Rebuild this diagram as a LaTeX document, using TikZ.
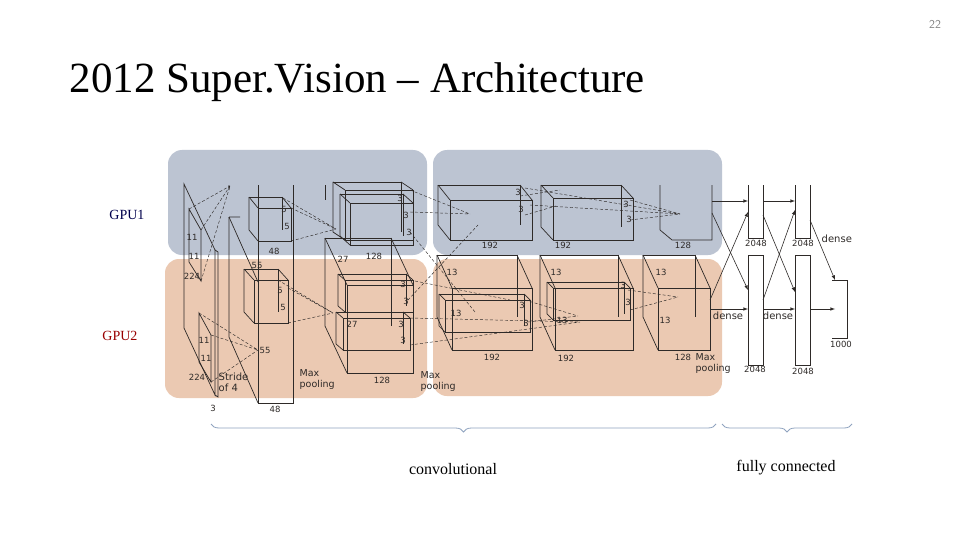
\documentclass[tikz,border=0pt]{standalone}
\usepackage{fontspec}
\setmainfont{Liberation Serif}
\newfontfamily\lab{DejaVu Sans}
\usetikzlibrary{decorations.pathreplacing}
\definecolor{gpuA}{HTML}{BCC4D2}
\definecolor{gpuB}{HTML}{EBC9B2}
\definecolor{ink}{HTML}{2E2A28}
\definecolor{bracec}{HTML}{8FA3BF}
\newcommand\cuboidx[6]{% x1 y1 x2 y2 dx dy
  \draw[box] (#1,#2) rectangle (#3,#4);
  \draw[box] (#1+#5,#2+#6) -- (#3+#5,#2+#6) -- (#3+#5,#4+#6);
  \draw[box] (#1+#5,#2+#6) -- (#1+#5,#4+#6) -- (#1,#4);
  \draw[box] (#1+#5,#2+#6) -- (#1,#2) (#3+#5,#2+#6) -- (#3,#2);}
\begin{document}
\begin{tikzpicture}[x=1pt,y=-1pt,
  box/.style={draw=ink,line width=0.7pt},
  dsh/.style={draw=ink,densely dashed,line width=0.45pt},
  num/.style={font=\lab\fontsize{8.5}{9}\selectfont,text=ink,inner sep=0.5pt},
  arr/.style={draw=ink,line width=0.6pt,-latex},
  bg/.style={rounded corners=14pt,draw=none}]
\useasboundingbox (0,0) rectangle (960,540);
\fill[white] (0,0) rectangle (960,540);
\node[text=gray,font=\fontsize{12}{13}\selectfont\sffamily] (pg) at (935,24) {22};
\node[anchor=west,font=\fontsize{43}{46}\selectfont] (title) at (66,82) {2012 Super.Vision – Architecture};
% backgrounds
\fill[gpuA,bg] (168,150) rectangle (427,255);
\fill[gpuA,bg] (433,150) rectangle (722,255);
\fill[gpuB,bg] (165,259) rectangle (427,398);
\fill[gpuB,bg] (433,259) rectangle (722,396);
\node[text=blue!30!black,font=\fontsize{14}{16}\selectfont] (g1) at (127,215) {GPU1};
\node[text=red!60!black,font=\fontsize{14}{16}\selectfont] (g2) at (120,336) {GPU2};
% input
\draw[box] (184,184) -- (215,250) -- (215,395) -- (184,328) -- cycle;
\draw[box] (215,250) -- (218,252) -- (218,397) -- (215,395);
\draw[box] (189,209) -- (201,230) -- (201,281) -- (189,262) -- cycle;
\draw[box] (199,313) -- (211,335) -- (211,382) -- (199,362) -- cycle;
\draw[dsh] (201,230) -- (230,186) (201,281) -- (230,186) (189,209) -- (230,186);
\draw[dsh] (199,313) -- (258,350) (211,335) -- (258,350) (211,382) -- (258,350);
% conv1
\draw[box] (258,185) -- (258,403) -- (293,403) -- (293,185);
\draw[box] (229,217) -- (229,337) -- (258,403);
\draw[box] (229,217) -- (258,282) (229,185) -- (229,190) (229,217) -- (240,217);
\cuboidx{258}{208}{291}{241}{-9}{-11}
\cuboidx{254}{280}{288}{323}{-10}{-11}
\draw[dsh] (291,208) -- (336,229) (291,241) -- (336,229) (283,198) -- (336,229);
\draw[dsh] (288,288) -- (333,313) (288,323) -- (333,313) (278,280) -- (333,313);
% conv2
\cuboidx{347}{285}{413}{373}{-22}{-47}
\cuboidx{345}{190}{413}{240}{-12}{-8}
\cuboidx{350}{203}{413}{245}{-10}{-9}
\cuboidx{345}{280}{413}{312}{-7}{-6}
\cuboidx{343}{318}{410}{350}{-7}{-6}
\draw[box] (325,185) -- (325,200);
\draw[dsh] (410,190) -- (470,214) (410,212) -- (470,214) (410,232) -- (475,312);
\draw[dsh] (408,300) -- (478,225) (410,318) -- (580,322) (410,345) -- (580,322) (410,280) -- (510,300);
% layer 3
\cuboidx{452}{288}{532}{350}{-15}{-33}
\cuboidx{450}{200}{532}{240}{-12}{-15}
\cuboidx{445}{300}{530}{332}{-6}{-6}
\draw[dsh] (525,188) -- (680,214) (530,205) -- (680,214) (525,300) -- (578,316) (528,322) -- (578,316);
\draw[dsh] (520,196) -- (560,190) (525,215) -- (556,206);
% layer 4
\cuboidx{555}{288}{633}{350}{-15}{-33}
\cuboidx{553}{198}{633}{240}{-12}{-13}
\cuboidx{553}{288}{630}{320}{-6}{-6}
\draw[dsh] (630,200) -- (680,214) (630,220) -- (680,214) (628,290) -- (678,297) (630,310) -- (678,297);
% layer 5
\cuboidx{658}{288}{710}{350}{-15}{-33}
\draw[box] (660,185) -- (660,230) -- (672,240) -- (712,240) -- (712,185);
% fully connected
\draw[box] (748,185) -- (748,238) -- (763,238) -- (763,185);
\draw[box] (748,255) rectangle (763,365);
\draw[box] (795,185) -- (795,238) -- (810,238) -- (810,185);
\draw[box] (795,255) rectangle (810,365);
\draw[box] (832,280) -- (847,280) -- (847,338) -- (832,338);
\coordinate (l5t) at (712,201); \coordinate (l5b) at (710,309);
\draw[arr] (l5t) -- (748,201);
\draw[arr] (712,213) -- (748,290);
\draw[arr] (l5b) -- (748,309);
\draw[arr] (710,300) -- (748,212);
\draw[arr] (763,201) -- (795,201);
\draw[arr] (763,215) -- (795,292);
\draw[arr] (763,309) -- (795,309);
\draw[arr] (763,300) -- (795,210);
\draw[arr] (810,220) -- (835,280);
\draw[arr] (810,309) -- (835,309);
% numbers
\foreach \t/\x/\y in {3/213/408,48/275/409,224/192/276,11/192/237,11/194/256,224/197/377,11/204/340,11/206/358,55/257/265,55/265/350,48/274/251,5/284/209,5/287/226,5/280/290,5/283/307,27/343/259,128/374/256,27/352/324,128/382/380,3/400/198,3/406/215,3/409/232,3/403/284,3/406/301,3/401/324,3/403/340,13/452/272,13/456/313,192/490/245,192/492/357,3/518/192,3/521/209,3/522/305,3/526/323,13/556/272,13/562/320,192/563/245,192/566/358,3/626/204,3/629/219,3/623/285,3/628/302,13/661/272,13/665/320,128/683/245,128/683/357,2048/756/243,2048/803/243,2048/755/369,2048/803/371,1000/841/344}
  {\node[num] at (\x,\y) {\t};}
\node[num,font=\lab\fontsize{10}{11}\selectfont,anchor=west] (dn1) at (821,239) {dense};
\node[num,font=\lab\fontsize{10}{11}\selectfont] (dn2) at (728,316) {dense};
\node[num,font=\lab\fontsize{10}{11}\selectfont] (dn3) at (778,316) {dense};
\node[num,font=\lab\fontsize{10}{11}\selectfont,align=left,anchor=north west] (st) at (218,372) {Stride\\of 4};
\node[num,font=\lab\fontsize{9.5}{11}\selectfont,align=left,anchor=north west] (mp1) at (299,369) {Max\\pooling};
\node[num,font=\lab\fontsize{9.5}{11}\selectfont,align=left,anchor=north west] (mp2) at (420,371) {Max\\pooling};
\node[num,font=\lab\fontsize{9.5}{11}\selectfont,align=left,anchor=north west] (mp3) at (695,353) {Max\\pooling};
% braces
\draw[bracec,line width=0.8pt,decorate,decoration={brace,mirror,amplitude=8pt}] (211,424) -- (716,424);
\draw[bracec,line width=0.8pt,decorate,decoration={brace,mirror,amplitude=8pt}] (722,424) -- (852,424);
\node[font=\fontsize{16}{18}\selectfont] (cv) at (453,469) {convolutional};
\node[font=\fontsize{16}{18}\selectfont] (fc) at (786,468) {fully connected};
\end{tikzpicture}
\end{document}
